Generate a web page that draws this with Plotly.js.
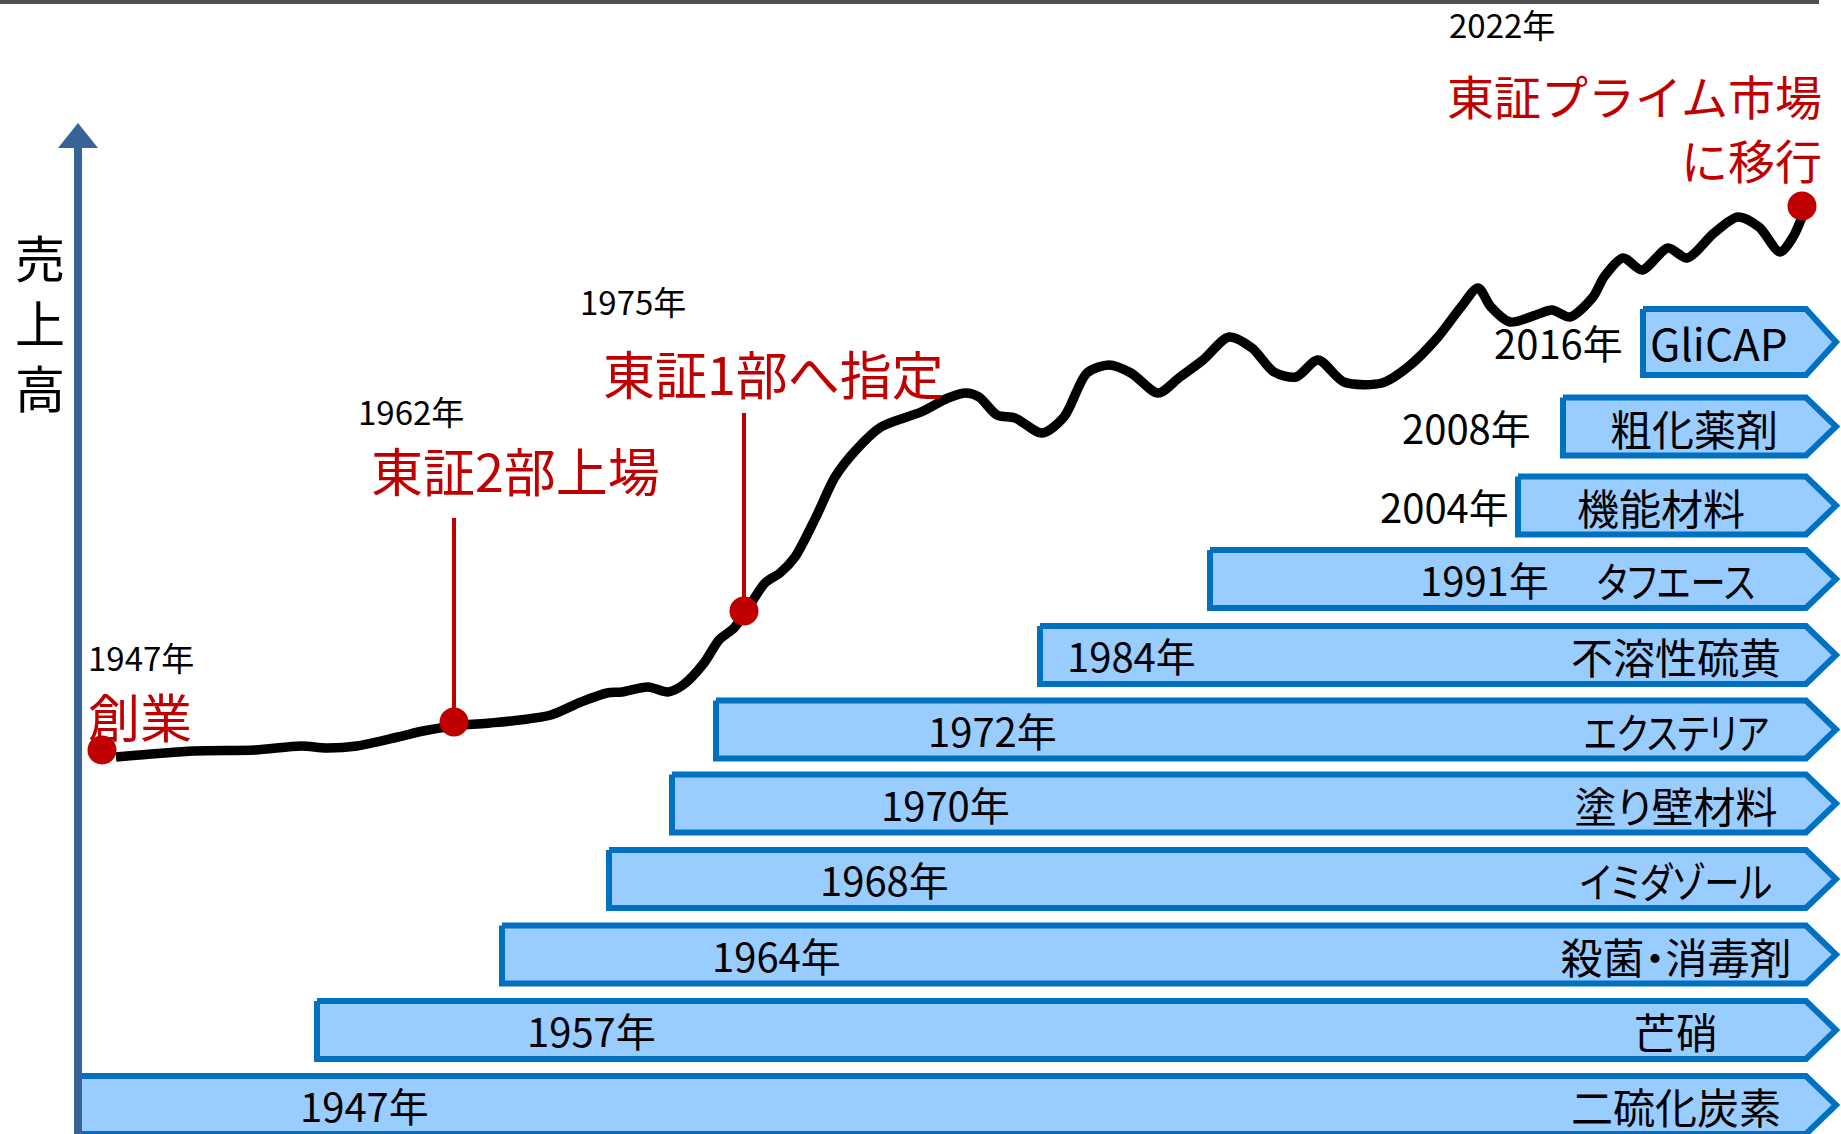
<!DOCTYPE html>
<html lang="ja">
<head>
<meta charset="utf-8">
<script src="https://cdn.plot.ly/plotly-3.0.1.min.js"></script>
<style>
  html, body { margin: 0; padding: 0; background: #ffffff; overflow: hidden; }
  #chart { width: 1841px; height: 1134px; }
</style>
</head>
<body>
<div id="chart"></div>
<script>
// ---------------- DATA ----------------
// Sales curve: position along the timeline axis and relative sales level
const curveX = [116, 194, 255, 301, 326, 357, 398, 423, 454, 490, 520, 551, 581, 607, 622, 648, 668, 683, 704, 719, 734, 745, 765, 780, 795, 816, 835, 856, 881, 921, 948, 966, 979, 997, 1015, 1042, 1064, 1087, 1109, 1131, 1158, 1180, 1203, 1229, 1252, 1274, 1296, 1318, 1344, 1382, 1408, 1438, 1461, 1478, 1491, 1510, 1536, 1552, 1570, 1593, 1604, 1623, 1642, 1668, 1687, 1714, 1738, 1759, 1780, 1793, 1802];
const curveY = [377, 383, 384, 388, 386, 388, 397, 403, 408, 411, 414, 419, 432, 441, 442, 447, 442, 449, 471, 494, 506, 521, 551, 561, 577, 617, 657, 684, 707, 722, 736, 741, 737, 719, 716, 701, 717, 761, 769, 761, 741, 757, 774, 797, 786, 762, 757, 774, 752, 751, 767, 797, 827, 846, 827, 812, 819, 824, 817, 837, 857, 876, 864, 886, 876, 901, 917, 907, 882, 897, 917];

// Milestones
const milestoneYear = ['1947年', '1962年', '1975年', '2022年'];
const milestoneText = ['創業', '東証2部上場', '東証1部へ指定', '東証プライム市場<br>に移行'];
const milestoneX = [102, 454, 744, 1802];
const milestoneY = [384, 412, 523, 928];
const leaderTop = [null, 616, 721, null];

// Business lines (bottom to top)
const businessName = ['二硫化炭素', '芒硝', '殺菌・消毒剤', 'イミダゾール', '塗り壁材料', 'エクステリア', '不溶性硫黄', 'タフエース', '機能材料', '粗化薬剤', 'GliCAP'];
const businessYear = ['1947年', '1957年', '1964年', '1968年', '1970年', '1972年', '1984年', '1991年', '2004年', '2008年', '2016年'];
const businessStart = [75, 314, 499, 606, 669, 713, 1037, 1207, 1515, 1560, 1640];

// ---------------- LAYOUT / STYLE ----------------
const W = 1841, H = 1134;
const FONT = '"Noto Sans CJK JP", "Noto Sans", sans-serif';
const RED = '#C00000';
const BAR_FILL = '#99CCFF';
const BAR_LINE = '#0070C0';
const AXIS_BLUE = '#386396';

const rowCenterPx = [1105, 1030, 954.5, 879, 803.5, 729.5, 655, 579, 505.5, 426.5, 342];
const rowHalf = [29, 29, 29, 29, 29, 29, 29, 29, 29, 29, 33];
const yearLabelX = [364, 591, 776, 884, 945, 992, 1131, 1484, 1511, 1533, 1625];
const yearInside = [true, true, true, true, true, true, true, true, false, false, false];
const nameLabelX = [1676, 1676, 1676, 1676, 1676, 1676, 1676, 1676, 1661, 1694, 1719];
const nameScaleX = [1, 1, 1, 0.84, 1, 0.82, 1, 0.84, 1, 1, 1];
const bodyEnd = 1806, tipX = 1836;

const toY = py => H - py;

const traces = [];
const annotations = [];
const cssRules = [];

// Business arrows
businessName.forEach((name, i) => {
  const mid = toY(rowCenterPx[i]);
  const top = mid + rowHalf[i];
  const bot = mid - rowHalf[i];
  const L = businessStart[i] + 3;
  traces.push({
    type: 'scatter', mode: 'lines', fill: 'toself',
    x: [L, bodyEnd, tipX, bodyEnd, L, L],
    y: [top, top, mid, bot, bot, top],
    fillcolor: BAR_FILL,
    line: { color: BAR_LINE, width: 6 },
    hoverinfo: 'skip', showlegend: false
  });
  annotations.push({
    x: yearLabelX[i], y: mid, xref: 'x', yref: 'y', showarrow: false,
    text: businessYear[i],
    xanchor: yearInside[i] ? 'center' : 'right', yanchor: 'middle',
    height: 50,
    font: { family: FONT, size: 40, color: '#000000' }
  });
  const idx = annotations.length;
  cssRules.push(`.annotation[data-index="${idx}"] text { font-feature-settings: "palt" 1;` +
    (nameScaleX[i] !== 1 ? ` transform-box: fill-box; transform-origin: center; transform: scaleX(${nameScaleX[i]});` : '') + ' }');
  annotations.push({
    x: nameLabelX[i], y: mid, xref: 'x', yref: 'y', showarrow: false,
    text: name, xanchor: 'center', yanchor: 'middle',
    height: 50,
    font: { family: FONT, size: name === 'GliCAP' ? 44 : 42, color: '#000000' }
  });
});

// Leader lines for milestones
const lx = [], ly = [];
milestoneX.forEach((x, i) => {
  if (leaderTop[i] !== null) {
    lx.push(x, x, null);
    ly.push(leaderTop[i], milestoneY[i], null);
  }
});
traces.push({
  type: 'scatter', mode: 'lines', x: lx, y: ly,
  line: { color: RED, width: 4 }, hoverinfo: 'skip', showlegend: false
});

// Sales curve
traces.push({
  type: 'scatter', mode: 'lines', x: curveX, y: curveY,
  line: { color: '#000000', width: 9.5, shape: 'spline', smoothing: 0.8 },
  hoverinfo: 'skip', showlegend: false
});

// Milestone dots
traces.push({
  type: 'scatter', mode: 'markers', x: milestoneX, y: milestoneY,
  marker: { color: RED, size: 29, line: { width: 0 } },
  hoverinfo: 'skip', showlegend: false
});

// Milestone labels (each text line placed on its own)
const msYearPos = [[141, 657, 'center'], [411, 411, 'center'], [633, 301, 'center'], [1502, 24, 'center']];
const msTextPos = [[86, 715, 'left', 52], [515, 469, 'center', 52], [773, 372, 'center', 52], [1824, 94, 'right', 47]];
const msLineGap = 64;
milestoneYear.forEach((yr, i) => {
  annotations.push({
    x: msYearPos[i][0], y: toY(msYearPos[i][1]), xref: 'x', yref: 'y', showarrow: false,
    text: yr, xanchor: msYearPos[i][2], yanchor: 'middle',
    height: 36,
    font: { family: FONT, size: 33, color: '#000000' }
  });
  const fs = msTextPos[i][3];
  milestoneText[i].split('<br>').forEach((line, k) => {
    annotations.push({
      x: msTextPos[i][0], y: toY(msTextPos[i][1] + k * msLineGap), xref: 'x', yref: 'y', showarrow: false,
      text: line, xanchor: msTextPos[i][2], yanchor: 'middle',
      height: Math.round(fs * 1.08),
      font: { family: FONT, size: fs, color: RED }
    });
  });
});

// Vertical axis title
annotations.push({
  x: 40, y: toY(321), xref: 'x', yref: 'y', showarrow: false,
  text: '売<br>上<br>高', xanchor: 'center', yanchor: 'middle',
  font: { family: FONT, size: 50, color: '#000000' }
});

// proportional / narrow kana for the business names (as in the original)
const st = document.createElement('style');
st.textContent = cssRules.join('\n');
document.head.appendChild(st);

const shapes = [
  // top rule
  { type: 'line', xref: 'x', yref: 'y', x0: 0, x1: 1819, y0: toY(2), y1: toY(2),
    line: { color: '#505050', width: 4 }, layer: 'above' },
  // sales axis line
  { type: 'line', xref: 'x', yref: 'y', x0: 78, x1: 78, y0: -5, y1: toY(146),
    line: { color: AXIS_BLUE, width: 8 }, layer: 'above' },
  // arrow head
  { type: 'path', xref: 'x', yref: 'y',
    path: `M 58 ${toY(148)} L 98 ${toY(148)} L 78 ${toY(123)} Z`,
    fillcolor: AXIS_BLUE, line: { width: 0 }, layer: 'above' }
];

const layout = {
  width: W, height: H, autosize: false,
  margin: { l: 0, r: 0, t: 0, b: 0, pad: 0 },
  paper_bgcolor: '#ffffff', plot_bgcolor: '#ffffff',
  xaxis: { range: [0, W], visible: false, fixedrange: true },
  yaxis: { range: [0, H], visible: false, fixedrange: true },
  showlegend: false,
  annotations: annotations,
  shapes: shapes
};

Plotly.newPlot('chart', traces, layout, { displayModeBar: false, staticPlot: true });
</script>
</body>
</html>
